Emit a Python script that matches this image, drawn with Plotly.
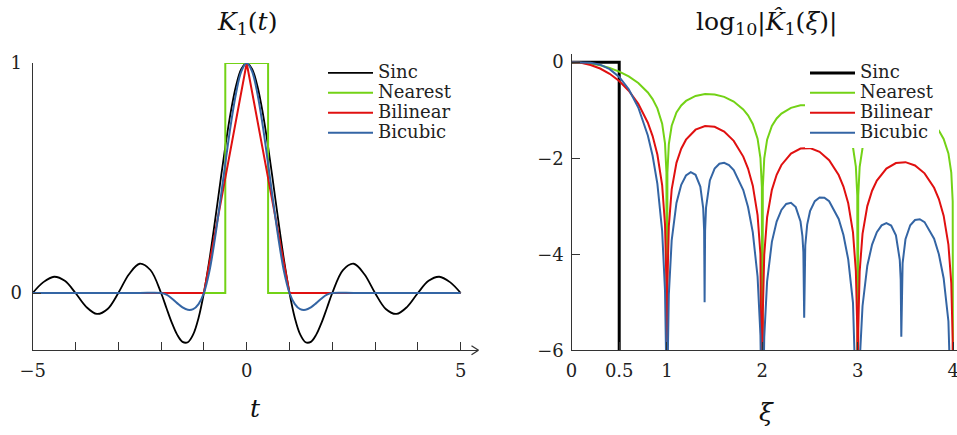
import plotly.graph_objects as go

# ---------------- data: spatial kernels K1(t) ----------------
t_sinc = [-5, -4.75, -4.5, -4.25, -4, -3.75, -3.5, -3.25, -3, -2.75, -2.5, -2.25, -2,
          -1.875, -1.75, -1.625, -1.5, -1.375, -1.25, -1.125, -1, -0.875, -0.75, -0.625,
          -0.5, -0.375, -0.25, -0.125, 0, 0.125, 0.25, 0.375, 0.5, 0.625, 0.75, 0.875,
          1, 1.125, 1.25, 1.375, 1.5, 1.625, 1.75, 1.875, 2, 2.25, 2.5, 2.75, 3, 3.25,
          3.5, 3.75, 4, 4.25, 4.5, 4.75, 5]
k_sinc = [0, 0.0474, 0.0707, 0.0530, 0, -0.0600, -0.0909, -0.0693, 0, 0.0818, 0.1273, 0.1000, 0,
          -0.0650, -0.1286, -0.1810, -0.2122, -0.2139, -0.1801, -0.1083, 0, 0.1392, 0.3001, 0.4705,
          0.6366, 0.7842, 0.9003, 0.9745, 1, 0.9745, 0.9003, 0.7842, 0.6366, 0.4705, 0.3001, 0.1392,
          0, -0.1083, -0.1801, -0.2139, -0.2122, -0.1810, -0.1286, -0.0650, 0, 0.1000, 0.1273, 0.0818, 0, -0.0693,
          -0.0909, -0.0600, 0, 0.0530, 0.0707, 0.0474, 0]

t_nearest = [-5, -0.5, -0.5, 0.5, 0.5, 5]
k_nearest = [0, 0, 1, 1, 0, 0]

t_bilinear = [-5, -1, 0, 1, 5]
k_bilinear = [0, 0, 1, 0, 0]

t_bicubic = [-5, -4, -3, -2.5, -2, -1.875, -1.75, -1.625, -1.5, -1.375, -1.25, -1.125, -1,
             -0.875, -0.75, -0.625, -0.5, -0.375, -0.25, -0.125, 0, 0.125, 0.25, 0.375, 0.5,
             0.625, 0.75, 0.875, 1, 1.125, 1.25, 1.375, 1.5, 1.625, 1.75, 1.875, 2, 2.5, 3, 4, 5]
k_bicubic = [0, 0, 0, 0, 0, -0.0068, -0.0234, -0.0439, -0.0625, -0.0732, -0.0703, -0.0479, 0,
             0.0908, 0.2266, 0.3896, 0.5625, 0.7275, 0.8672, 0.9639, 1, 0.9639, 0.8672, 0.7275, 0.5625,
             0.3896, 0.2266, 0.0908, 0, -0.0479, -0.0703, -0.0732, -0.0625, -0.0439, -0.0234, -0.0068, 0, 0, 0, 0, 0]

# ---------------- data: log10 |K1_hat(xi)| ----------------
xi_sinc = [0, 0.5, 0.5]
f_sinc = [0, 0, -10]

xi_nb = [0, 0.1, 0.2, 0.3, 0.4, 0.5, 0.6, 0.7, 0.8, 0.85, 0.9, 0.95, 0.98, 0.995, 1.0,
         1.005, 1.02, 1.05, 1.1, 1.15, 1.2, 1.3, 1.4, 1.5, 1.6, 1.7, 1.8, 1.85, 1.9, 1.95, 1.98, 1.995, 2.0,
         2.005, 2.02, 2.05, 2.1, 2.15, 2.2, 2.3, 2.4, 2.5, 2.6, 2.7, 2.8, 2.85, 2.9, 2.95, 2.98, 2.995, 3.0,
         3.005, 3.02, 3.05, 3.1, 3.15, 3.2, 3.3, 3.4, 3.5, 3.6, 3.7, 3.8, 3.85, 3.9, 3.95, 3.98, 3.995, 4.0]
f_nearest = [0, -0.0072, -0.0290, -0.0663, -0.1210, -0.1961, -0.2971, -0.4343, -0.6310, -0.7695, -0.9614, -1.2806, -1.6905, -2.2989, -10,
             -2.3032, -1.7079, -1.3240, -1.0485, -0.9008, -0.8071, -0.7031, -0.6651, -0.6732, -0.7231, -0.8196, -0.9832, -1.1072, -1.2859, -1.5929, -1.9959, -2.6010, -10,
             -2.6032, -2.0046, -1.6146, -1.3294, -1.1725, -1.0704, -0.9509, -0.8992, -0.8951, -0.9339, -1.0205, -1.1751, -1.2949, -1.4696, -1.7727, -2.1735, -2.7775, -10,
             -2.7789, -2.1793, -1.7872, -1.4985, -1.3384, -1.2331, -1.1077, -1.0504, -1.0412, -1.0753, -1.1574, -1.3077, -1.4255, -1.5982, -1.8995, -2.2991, -2.9026, -10]
f_bilinear = [0, -0.0144, -0.0580, -0.1326, -0.2420, -0.3922, -0.5942, -0.8686, -1.2620, -1.5390, -1.9228, -2.5612, -3.3810, -4.5978, -10,
              -4.6064, -3.4158, -2.6480, -2.0970, -1.8016, -1.6142, -1.4062, -1.3302, -1.3464, -1.4462, -1.6392, -1.9664, -2.2144, -2.5718, -3.1858, -3.9918, -5.2020, -10,
              -5.2064, -4.0092, -3.2292, -2.6588, -2.3450, -2.1408, -1.9018, -1.7984, -1.7902, -1.8678, -2.0410, -2.3502, -2.5898, -2.9392, -3.5454, -4.3470, -5.5550, -10,
              -5.5578, -4.3586, -3.5744, -2.9970, -2.6768, -2.4662, -2.2154, -2.1008, -2.0824, -2.1506, -2.3148, -2.6154, -2.8510, -3.1964, -3.7990, -4.5982, -5.8052, -10]

xi_bicubic = [0, 0.1, 0.2, 0.3, 0.4, 0.5, 0.6, 0.7, 0.8, 0.85, 0.9, 0.95, 0.98, 0.995, 1.0,
              1.005, 1.02, 1.05, 1.1, 1.15, 1.2, 1.25, 1.3, 1.35, 1.38, 1.39, 1.395, 1.4, 1.41, 1.45, 1.5, 1.55, 1.6, 1.65, 1.7, 1.8, 1.85, 1.9, 1.95, 1.98, 1.995, 2.0,
              2.005, 2.02, 2.05, 2.1, 2.15, 2.2, 2.25, 2.3, 2.35, 2.4, 2.42, 2.43, 2.4385, 2.45, 2.47, 2.5, 2.55, 2.6, 2.65, 2.7, 2.8, 2.85, 2.9, 2.95, 2.98, 2.995, 3.0,
              3.005, 3.02, 3.05, 3.1, 3.15, 3.2, 3.25, 3.3, 3.35, 3.4, 3.44, 3.45, 3.4563, 3.46, 3.47, 3.5, 3.55, 3.6, 3.65, 3.7, 3.8, 3.85, 3.9, 3.95, 3.98, 3.995, 4.0]
f_bicubic = [0, -0.0008, -0.0119, -0.0529, -0.1449, -0.3074, -0.5626, -0.9451, -1.5277, -1.9484, -2.5359, -3.5128, -4.7582, -6.592, -10,
             -6.612, -4.8365, -3.7088, -2.9323, -2.5547, -2.3605, -2.2922, -2.3449, -2.5892, -3.0382, -3.507, -5.0, -3.5084, -3.0263, -2.4633, -2.2157, -2.1142, -2.0953, -2.1409, -2.2466, -2.6641, -3.0170, -3.5444, -4.4665, -5.6810, -7.50, -10,
             -7.51, -5.7201, -4.5645, -3.7423, -3.3187, -3.0767, -2.9526, -2.9286, -3.0179, -3.3181, -3.6232, -3.9577, -5.32, -3.8172, -3.3815, -3.1033, -2.8929, -2.8161, -2.8220, -2.8966, -3.2656, -3.5982, -4.1069, -5.0115, -6.216, -8.03, -10,
             -8.04, -6.2421, -5.0769, -4.2386, -3.7992, -3.5401, -3.3972, -3.3493, -3.4014, -3.6060, -4.1155, -4.5246, -5.72, -4.754, -4.1850, -3.6877, -3.3960, -3.2862, -3.2713, -3.3309, -3.6762, -3.9990, -4.4984, -5.3946, -6.594, -8.41, -10]

names = ["Sinc", "Nearest", "Bilinear", "Bicubic"]
colors = ["#000000", "#73d216", "#e01010", "#3465a4"]

left_major = [-5, 0, 5]
left_major_text = ["−5", "0", "5"]
left_minor = [-4, -3, -2, -1, 1, 2, 3, 4]
right_ticks = [0, 0.5, 1, 2, 3, 4]
right_ticktext = ["0", "0.5", "1", "2", "3", "4"]

# ---------------- layout helpers ----------------
W, H = 957, 435
FONT = "DejaVu Serif"
AX = "#333333"


def px(p):
    return p / W


def py(p):
    return 1 - p / H


fig = go.Figure()

left_data = [(t_sinc, k_sinc, "spline"), (t_nearest, k_nearest, "linear"),
             (t_bilinear, k_bilinear, "linear"), (t_bicubic, k_bicubic, "spline")]
for (x, y, shape), n, c in zip(left_data, names, colors):
    fig.add_trace(go.Scatter(x=x, y=y, mode="lines", name=f'<span style="font-size:18px">{n}</span>',
                             line=dict(color=c, width=1.8 if n == "Sinc" else 2, shape=shape),
                             xaxis="x", yaxis="y", legend="legend", hoverinfo="skip"))

right_data = [(xi_sinc, f_sinc), (xi_nb, f_nearest), (xi_nb, f_bilinear), (xi_bicubic, f_bicubic)]
for (x, y), n, c in zip(right_data, names, colors):
    fig.add_trace(go.Scatter(x=x, y=y, mode="lines", name=f'<span style="font-size:18px">{n}</span>',
                             line=dict(color=c, width=3 if n == "Sinc" else 2),
                             xaxis="x2", yaxis="y2", legend="legend2", hoverinfo="skip"))

axis_common = dict(showline=True, linecolor=AX, linewidth=1.3, showgrid=False, zeroline=False,
                   ticks="inside", ticklen=8, tickwidth=1.3, tickcolor=AX, automargin=False,
                   ticklabeloverflow="allow",
                   tickfont=dict(family=FONT, size=18, color="#222"), fixedrange=True)

legend_common = dict(font=dict(family=FONT, size=13, color="#222"), bgcolor="white",
                     borderwidth=0, xanchor="left", yanchor="top", itemwidth=45,
                     tracegroupgap=0, itemclick=False, itemdoubleclick=False)

fig.update_layout(
    width=W, height=H, margin=dict(l=0, r=0, t=0, b=0, pad=0, autoexpand=False),
    paper_bgcolor="white", plot_bgcolor="white",
    font=dict(family=FONT, color="#222"),
    xaxis=dict(domain=[px(32.7), px(477.8)], range=[-5, 5.4], anchor="y",
               tickvals=left_major, ticktext=left_major_text, ticklabelstandoff=4,
               minor=dict(tickvals=left_minor, ticks="inside", ticklen=8, tickwidth=1.3,
                          tickcolor=AX, showgrid=False),
               **axis_common),
    yaxis=dict(domain=[py(350.3), py(63)], range=[-0.249, 1.0], anchor="x",
               tickvals=[0, 1], ticktext=["0", "1"], ticklabelstandoff=6, **axis_common),
    xaxis2=dict(domain=[px(571.5), 1.0], range=[0, 4.04], anchor="y2",
                tickvals=right_ticks, ticktext=right_ticktext, ticklabelstandoff=4, **axis_common),
    yaxis2=dict(domain=[py(350.3), py(54)], range=[-6, 0.17], anchor="x2",
                tickvals=[0, -2, -4, -6], ticklabelstandoff=3, **axis_common),
    legend=dict(x=px(323), y=py(58), **legend_common),
    legend2=dict(x=px(805), y=py(58), **legend_common),
    showlegend=True,
)

# titles and axis labels
ann = [
    dict(text="<i>K</i><sub>1</sub>(<i>t</i>)", x=px(246.7), y=py(23), size=25),
    dict(text="log<sub>10</sub>|<i>K̂</i><sub>1</sub>(<i>ξ</i>)|", x=px(766), y=py(23), size=25),
    dict(text="<i>t</i>", x=px(255.3), y=py(408), size=25),
    dict(text="<i>ξ</i>", x=px(766), y=py(412), size=25),
]
for a in ann:
    fig.add_annotation(text=a["text"], x=a["x"], y=a["y"], xref="paper", yref="paper",
                       xanchor="center", yanchor="middle", showarrow=False,
                       font=dict(family=FONT, size=a["size"], color="#111"))

# arrow head at the end of the left x axis
tip_x, tip_y = 478.5, 350.3
for dy in (-4.5, 4.5):
    fig.add_shape(type="line", xref="paper", yref="paper",
                  x0=px(tip_x - 7), y0=py(tip_y + dy), x1=px(tip_x), y1=py(tip_y),
                  line=dict(color=AX, width=1.3))

fig.write_html("out.html", config={"displayModeBar": False, "staticPlot": False},
               post_script="document.body.style.margin='0';document.body.style.overflow='hidden';")
